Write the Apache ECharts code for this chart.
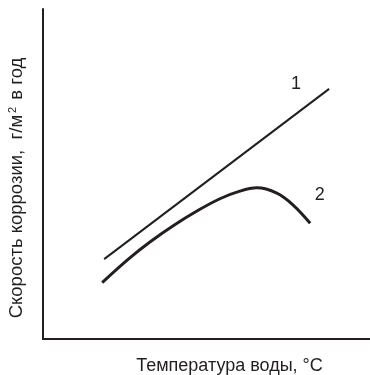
<!DOCTYPE html>
<html>
<head>
<meta charset="utf-8">
<script src="https://cdn.jsdelivr.net/npm/echarts@6/dist/echarts.min.js"></script>
<style>
  html, body { margin: 0; padding: 0; background: #fff; }
  #chart { width: 370px; height: 375px; }
</style>
</head>
<body>
<div id="chart"></div>
<script>
// Curve 1: corrosion rate rising steadily with water temperature
const line1X = [18.7, 87.5];
const line1Y = [24.2, 75.8];
// Curve 2: rises to a maximum, then falls at high temperature
const curve2X = [18.1, 26.1, 32.7, 40.4, 48.0, 54.1, 60.2, 65.4, 71.5, 76.5, 81.7];
const curve2Y = [17.1, 24.2, 29.4, 34.7, 39.3, 42.5, 44.8, 45.8, 44.2, 40.6, 35.1];
const seriesNames = ['1', '2'];

const ink = '#231f20';
const font = '"Liberation Sans", Arial, sans-serif';

function pairs(xs, ys, labelOpt) {
  return xs.map((x, i) => {
    const item = { value: [x, ys[i]] };
    if (i === xs.length - 1) item.label = labelOpt;
    return item;
  });
}

const chart = echarts.init(document.getElementById('chart'), null, { renderer: 'canvas' });
chart.setOption({
  animation: false,
  backgroundColor: '#ffffff',
  grid: {
    left: 43, right: 0, top: 9, bottom: 36,
    containLabel: false, outerBoundsMode: 'none'
  },
  xAxis: {
    type: 'value', min: 0, max: 100,
    axisLine: { show: true, lineStyle: { color: ink, width: 2 } },
    axisTick: { show: false }, axisLabel: { show: false }, splitLine: { show: false },
    name: 'Температура воды, °C',
    nameLocation: 'middle',
    nameGap: 18,
    nameMoveOverlap: false,
    nameTextStyle: { color: ink, fontSize: 18, fontFamily: font, padding: [0, 0, 0, 46] }
  },
  yAxis: {
    type: 'value', min: 0, max: 100,
    axisLine: { show: true, lineStyle: { color: ink, width: 2 } },
    axisTick: { show: false }, axisLabel: { show: false }, splitLine: { show: false },
    name: 'Скорость коррозии,  г/м{sup|2} в год',
    nameLocation: 'middle',
    nameGap: 16,
    nameRotate: 90,
    nameMoveOverlap: false,
    nameTextStyle: {
      color: ink, fontSize: 18.5, fontFamily: font, padding: [0, 28, 0, 0],
      rich: { sup: { fontSize: 11, fontFamily: font, color: ink, verticalAlign: 'top', padding: [0, 2, 9, 2] } }
    }
  },
  series: [
    {
      name: seriesNames[0], type: 'line',
      symbol: 'circle', symbolSize: 0, showSymbol: true,
      lineStyle: { color: ink, width: 2 },
      itemStyle: { color: ink },
      data: pairs(line1X, line1Y, {
        show: true, formatter: seriesNames[0], position: 'inside', offset: [-33, -5],
        color: ink, fontSize: 18, fontFamily: font
      })
    },
    {
      name: seriesNames[1], type: 'line', smooth: 0.35,
      symbol: 'circle', symbolSize: 0, showSymbol: true,
      lineStyle: { color: ink, width: 3 },
      itemStyle: { color: ink },
      data: pairs(curve2X, curve2Y, {
        show: true, formatter: seriesNames[1], position: 'inside', offset: [9.5, -28],
        color: ink, fontSize: 18, fontFamily: font
      })
    }
  ]
});
</script>
</body>
</html>
